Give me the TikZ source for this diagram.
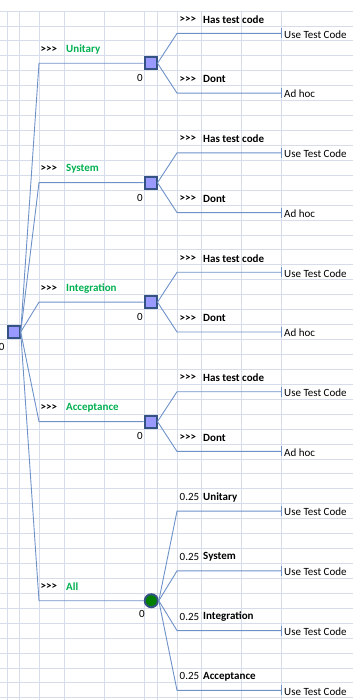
\documentclass[tikz,border=0pt]{standalone}
\usepackage{fontspec}
\setmainfont{Carlito}
\usepackage{tikz}
\usetikzlibrary{positioning}

\definecolor{gridgray}{RGB}{214,220,233}
\definecolor{branchblue}{RGB}{110,145,200}
\definecolor{decfill}{RGB}{153,153,255}
\definecolor{nodeedge}{RGB}{52,82,130}
\definecolor{chancefill}{RGB}{0,128,0}
\definecolor{labelgreen}{RGB}{0,176,80}

% centre of spreadsheet row #1
\newcommand{\rowc}[1]{11+14.93*(#1+0.5)}
% three arrows, no guillemet ligature
\newcommand{\mrk}{>{}>{}>}

\begin{document}
\begin{tikzpicture}[x=1pt, y=-1pt,
				GridLine/.style={gridgray, line width=0.8pt},
				Branch/.style={branchblue, line width=0.9pt},
				DecNode/.style={rectangle, draw=nodeedge, fill=decfill, line width=2pt, minimum size=12pt, inner sep=0pt},
				ChanceNode/.style={circle, draw=nodeedge, fill=chancefill, line width=2pt, minimum size=13pt, inner sep=0pt},
				Cell/.style={font=\fontsize{11}{13}\selectfont, inner sep=0pt, anchor=west, yshift=-1pt},
				BoldCell/.style={Cell, font=\fontsize{11}{13}\selectfont\bfseries},
				GreenCell/.style={BoldCell, text=labelgreen},
				ValLbl/.style={font=\fontsize{11}{13}\selectfont, inner sep=0pt}]

			\useasboundingbox (0,0) rectangle (353,700);

			% Grid
			\foreach \gx in {7,19,39,64,104,144,157,177,201,241,281}
				\draw[GridLine] (\gx,11) -- (\gx,700);
			\foreach \k in {0,...,46}
				\draw[GridLine] (0,{11+14.93*\k}) -- (353,{11+14.93*\k});

			% Nodes
			\node[DecNode] (Root) at (13.7,{\rowc{21}}) {};
			\node[ValLbl, below left=4pt and 2pt of Root] (RootVal) {0};

			\foreach \name/\r [count=\i] in {Unitary/3, System/11, Integration/19, Acceptance/27} {
				\node[DecNode] (Dec\i) at (150.5,{\rowc{\r}}) {};
				\node[ValLbl, below left=4pt and 0.5pt of Dec\i] (DecVal\i) {0};
				\coordinate (In\i) at (39,{\rowc{\r}});
				\node[BoldCell] (Mark\i) at (40.5,{\rowc{\r-1}}) {\mrk};
				\node[GreenCell] (Name\i) at (66,{\rowc{\r-1}}) {\name};

				\coordinate (UpTurn\i) at (177,{\rowc{\r-2}});
				\coordinate (UpEnd\i) at (281,{\rowc{\r-2}});
				\coordinate (DownTurn\i) at (177,{\rowc{\r+2}});
				\coordinate (DownEnd\i) at (281,{\rowc{\r+2}});
				\node[BoldCell] (UpMark\i) at (179.5,{\rowc{\r-3}}) {\mrk};
				\node[BoldCell] (UpName\i) at (203,{\rowc{\r-3}}) {Has test code};
				\node[BoldCell] (DownMark\i) at (179.5,{\rowc{\r+1}}) {\mrk};
				\node[BoldCell] (DownName\i) at (203,{\rowc{\r+1}}) {Dont};
				\node[Cell] (UpOut\i) at (284,{\rowc{\r-2}}) {Use Test Code};
				\node[Cell] (DownOut\i) at (284,{\rowc{\r+2}}) {Ad hoc};

				% Lines
				\draw[Branch] (Root.east) -- (In\i) -- (Dec\i.west);
				\draw[Branch] (Dec\i.east) -- (UpTurn\i) -- (UpEnd\i);
				\draw[Branch] (Dec\i.east) -- (DownTurn\i) -- (DownEnd\i);
				\draw[Branch] (UpEnd\i) ++(0,-5) -- ++(0,10);
				\draw[Branch] (DownEnd\i) ++(0,-5) -- ++(0,10);
			}

			% Chance node
			\node[ChanceNode] (All) at (151.3,{\rowc{39}}) {};
			\node[ValLbl, below left=4pt and 1pt of All] (AllVal) {0};
			\coordinate (InAll) at (39,{\rowc{39}});
			\node[BoldCell] (MarkAll) at (40.5,{\rowc{38}}) {\mrk};
			\node[GreenCell] (NameAll) at (66,{\rowc{38}}) {All};
			\draw[Branch] (Root.east) -- (InAll) -- (All.west);

			\foreach \name/\r [count=\j] in {Unitary/33, System/37, Integration/41, Acceptance/45} {
				\coordinate (ProbTurn\j) at (177,{\rowc{\r}});
				\coordinate (ProbEnd\j) at (281,{\rowc{\r}});
				\node[Cell] (Prob\j) at (179.5,{\rowc{\r-1}}) {0.25};
				\node[BoldCell] (ProbName\j) at (203,{\rowc{\r-1}}) {\name};
				\node[Cell] (ProbOut\j) at (284,{\rowc{\r}}) {Use Test Code};
				\draw[Branch] (All.east) -- (ProbTurn\j) -- (ProbEnd\j);
				\draw[Branch] (ProbEnd\j) ++(0,-5) -- ++(0,10);
			}
		\end{tikzpicture}
\end{document}
